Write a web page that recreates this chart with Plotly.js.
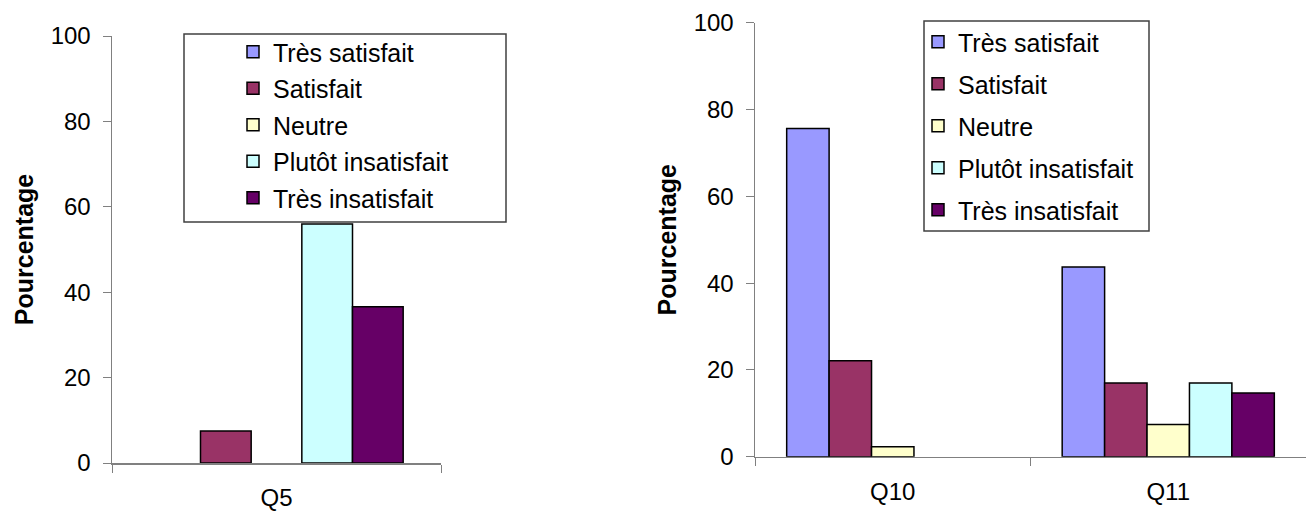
<!DOCTYPE html>
<html><head><meta charset="utf-8">
<script src="https://cdn.plot.ly/plotly-3.0.1.min.js"></script>
<style>body{margin:0;background:#fff;} #chart{width:1314px;height:511px;}</style>
</head><body><div id="chart"></div>
<script>
// Series names and colours (shared by both panels)
const seriesNames = ["Très satisfait", "Satisfait", "Neutre", "Plutôt insatisfait", "Très insatisfait"];
const seriesColors = ["#9999FF", "#993366", "#FFFFCC", "#CCFFFF", "#660066"];

// Left panel
const leftCategories = ["Q5"];
const leftTresSatisfait = [0];
const leftSatisfait = [7.5];
const leftNeutre = [0];
const leftPlutotInsatisfait = [56.0];
const leftTresInsatisfait = [36.6];

// Right panel
const rightCategories = ["Q10", "Q11"];
const rightTresSatisfait = [75.6, 43.7];
const rightSatisfait = [22.1, 17.0];
const rightNeutre = [2.3, 7.4];
const rightPlutotInsatisfait = [0, 17.0];
const rightTresInsatisfait = [0, 14.7];

// y ticks
const yTickValues = [0, 20, 40, 60, 80, 100];

const leftSeries = [leftTresSatisfait, leftSatisfait, leftNeutre, leftPlutotInsatisfait, leftTresInsatisfait];
const rightSeries = [rightTresSatisfait, rightSatisfait, rightNeutre, rightPlutotInsatisfait, rightTresInsatisfait];

const FONT = "Arial, 'Liberation Sans', sans-serif";
const W = 1314, H = 511;
const px = v => v / W;
const py = v => 1 - v / H;

function makeTrace(vals, i, xa, ya, leg, grp) {
  return {
    type: "bar", name: seriesNames[i], x: xa === "x" ? leftCategories : rightCategories,
    // a 0 % bar is simply not drawn (no outline on the baseline), as in the reference
    y: vals.map(v => v === 0 ? null : v),
    xaxis: xa, yaxis: ya, legend: leg, legendgroup: grp + i,
    marker: {color: seriesColors[i], line: {color: "#000", width: 1.5}},
    hoverinfo: "skip"
  };
}
const traces = [];
leftSeries.forEach((vals, i) => traces.push(makeTrace(vals, i, "x", "y", "legend", "L")));
rightSeries.forEach((vals, i) => traces.push(makeTrace(vals, i, "x2", "y2", "legend2", "R")));

const yAxisBase = {
  range: [0, 100], tickvals: yTickValues, ticks: "outside", ticklen: 8, tickcolor: "#808080",
  showline: true, linecolor: "#808080", linewidth: 1.5, showgrid: false, zeroline: false,
  tickfont: {family: FONT, size: 24, color: "#000"}, ticklabelstandoff: 7,
  title: {text: "Pourcentage", font: {family: FONT, size: 25, color: "#000", weight: "bold"}, standoff: 10},
  fixedrange: true
};
const xAxisBase = {
  type: "category", ticks: "outside", ticklen: 8, tickcolor: "#808080", tickson: "boundaries",
  showline: true, linecolor: "#808080", linewidth: 1.5, showgrid: false, zeroline: false,
  tickfont: {family: FONT, size: 24, color: "#000"}, ticklabelstandoff: 13, fixedrange: true
};

const layout = {
  width: W, height: H,
  margin: {l: 0, r: 0, t: 0, b: 0},
  paper_bgcolor: "#fff", plot_bgcolor: "#fff",
  barmode: "group", bargap: 0.23, bargroupgap: 0,
  font: {family: FONT, color: "#000"},
  xaxis: Object.assign({}, xAxisBase, {domain: [px(112), px(441)], anchor: "y"}),
  yaxis: Object.assign({}, yAxisBase, {domain: [py(463), py(36)], anchor: "x"}),
  xaxis2: Object.assign({}, xAxisBase, {domain: [px(755), px(1306)], anchor: "y2"}),
  yaxis2: Object.assign({}, yAxisBase, {domain: [py(456.7), py(22.7)], anchor: "x2"}),
  legend: {
    x: px(233), y: py(29), xanchor: "left", yanchor: "top",
    bgcolor: "rgba(0,0,0,0)", borderwidth: 0, traceorder: "grouped", tracegroupgap: 1,
    font: {family: FONT, size: 25, color: "#000"}
  },
  legend2: {
    x: px(918), y: py(19), xanchor: "left", yanchor: "top",
    bgcolor: "rgba(0,0,0,0)", borderwidth: 0, traceorder: "grouped", tracegroupgap: 6.5,
    font: {family: FONT, size: 25, color: "#000"}
  },
  shapes: [
    {type: "rect", xref: "paper", yref: "paper", x0: px(184), x1: px(506), y0: py(222), y1: py(34),
     line: {color: "#404040", width: 1.5}, fillcolor: "rgba(255,255,255,1)", layer: "above"},
    {type: "rect", xref: "paper", yref: "paper", x0: px(924), x1: px(1149), y0: py(231), y1: py(21),
     line: {color: "#404040", width: 1.5}, fillcolor: "rgba(255,255,255,1)", layer: "above"}
  ],
  showlegend: true
};

Plotly.newPlot("chart", traces, layout, {staticPlot: true, displayModeBar: false});
</script>
</body></html>
